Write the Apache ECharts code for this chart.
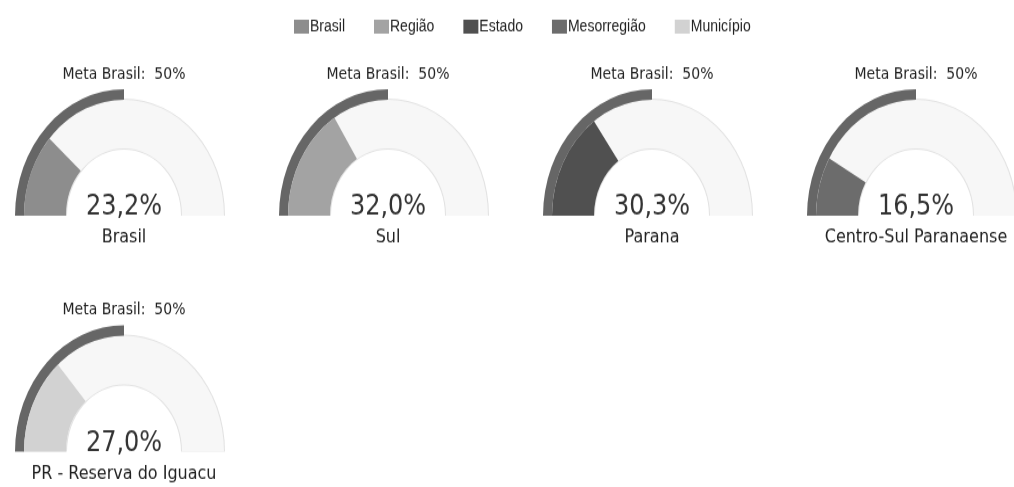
<!DOCTYPE html>
<html>
<head>
<meta charset="utf-8">
<script src="https://cdn.jsdelivr.net/npm/echarts@6/dist/echarts.min.js"></script>
<style>
  html, body { margin: 0; padding: 0; background: #fff; overflow: hidden; }
  #wrap { width: 1014px; height: 487px; overflow: hidden; }
  /* the reference is stretched vertically, so draw flat and stretch the box */
  #chart { width: 1014px; height: 420px; transform: scaleY(1.1595); transform-origin: 0 0; }
</style>
</head>
<body>
<div id="wrap"><div id="chart"></div></div>
<script>
const places = ["Brasil", "Sul", "Parana", "Centro-Sul Paranaense", "PR - Reserva do Iguacu"];
const levels = ["Brasil", "Região", "Estado", "Mesorregião", "Município"];
const values = [23.2, 32.0, 30.3, 16.5, 27.0];
const metaLabel = "Meta Brasil";
const metaValue = 50;

const levelColors = ["#8d8d8d", "#a3a3a3", "#505050", "#6c6c6c", "#d2d2d2"];
const metaColor = "#666666";

const fmt = (v) => `${v.toFixed(1).replace(".", ",")}%`;

const chart = echarts.init(document.getElementById("chart"));

function gaugeBase(center, radius) {
  return {
    type: "gauge",
    center,
    radius,
    startAngle: 180,
    endAngle: 0,
    min: 0,
    max: 100,
    pointer: { show: false },
    axisTick: { show: false },
    splitLine: { show: false },
    axisLabel: { show: false },
    anchor: { show: false },
    animation: false,
    silent: true,
  };
}

const series = [];
places.forEach((place, i) => {
  const col = i % 4;
  const row = Math.floor(i / 4);
  const center = [124 + col * 264, 186 + row * 203.5];

  // thin border round the track
  series.push({
    ...gaugeBase(center, 101),
    name: `border${i}`,
    axisLine: { lineStyle: { width: 44, color: [[1, "#e2e2e2"]] } },
    progress: { show: false },
    title: { show: false },
    detail: { show: false },
    data: [{ value: 0 }],
  });

  // meta band
  series.push({
    ...gaugeBase(center, 109),
    name: `meta${i}`,
    axisLine: { show: false, lineStyle: { width: 9 } },
    progress: { show: true, width: 9, itemStyle: { color: metaColor } },
    title: {
      offsetCenter: [0, -122],
      fontFamily: "DejaVu Sans",
      fontSize: 14,
      color: "#222",
    },
    detail: { show: false },
    data: [{ value: metaValue, name: `${metaLabel}:  ${metaValue}%` }],
  });

  // value band
  series.push({
    ...gaugeBase(center, 100),
    name: levels[i],
    itemStyle: { color: levelColors[i] },
    axisLine: { lineStyle: { width: 42, color: [[1, "#f7f7f7"]] } },
    progress: { show: true, width: 42, itemStyle: { color: levelColors[i] } },
    title: {
      offsetCenter: [0, 19],
      fontFamily: "DejaVu Sans",
      fontSize: 16,
      color: "#222",
    },
    detail: {
      offsetCenter: [0, -7],
      fontFamily: "DejaVu Sans",
      fontSize: 24,
      fontWeight: "normal",
      color: "#333",
      formatter: fmt,
    },
    data: [{ value: values[i], name: place }],
  });
});

chart.setOption({
  animation: false,
  legend: {
    data: levels,
    left: 289,
    top: 11,
    icon: "rect",
    itemWidth: 15,
    itemHeight: 12,
    itemGap: 29,
    textStyle: { fontFamily: "Liberation Sans", fontSize: 14, color: "#222", padding: [0, 0, 0, -4] },
    selectedMode: false,
  },
  series,
});
</script>
</body>
</html>
